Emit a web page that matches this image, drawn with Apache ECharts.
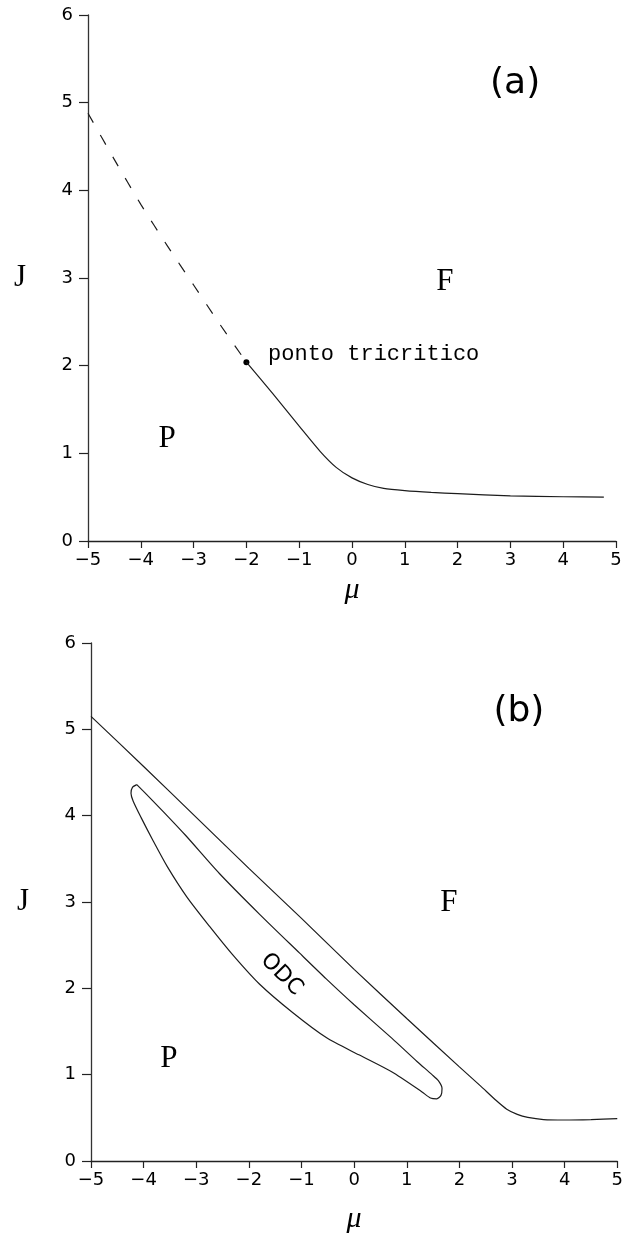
<!DOCTYPE html>
<html>
<head>
<meta charset="utf-8">
<script src="https://cdn.jsdelivr.net/npm/echarts@6/dist/echarts.min.js"></script>
<style>
  html, body { margin: 0; padding: 0; background: #fff; }
  #chart { width: 626px; height: 1235px; }
</style>
</head>
<body>
<div id="chart"></div>
<script>
// Axis ticks shared by both phase diagrams
const muTicks = [-5, -4, -3, -2, -1, 0, 1, 2, 3, 4, 5];
const jTicks = [0, 1, 2, 3, 4, 5, 6];

// (a) first-order branch (dashed) and second-order branch (solid), [mu, J]
const firstOrderA = [[-5, 4.88], [-4.5, 4.35], [-4, 3.84], [-3.5, 3.37], [-3, 2.92], [-2.5, 2.47], [-2, 2.04]];
const secondOrderA = [[-2, 2.04], [-1.5, 1.68], [-1, 1.31], [-0.6, 1.02], [-0.3, 0.84], [0, 0.72], [0.3, 0.645],
  [0.6, 0.6], [1, 0.575], [1.5, 0.555], [2, 0.54], [3, 0.515], [4, 0.505], [4.77, 0.5]];
const tricriticalPoint = [[-2, 2.04]];

// (b) P-F boundary and the closed ODC region
const boundaryB = [[-5, 5.15], [-4, 4.57], [-3, 3.98], [-2, 3.39], [-1, 2.81], [0, 2.22], [1, 1.65], [2, 1.09],
  [2.4, 0.87], [2.7, 0.7], [2.9, 0.6], [3.1, 0.54], [3.3, 0.505], [3.6, 0.48], [4, 0.475], [4.5, 0.48], [5, 0.49]];
const odcLoop = [[-4.13, 4.36], [-3.95, 4.25], [-3.6, 4.03], [-3.2, 3.77], [-2.56, 3.33], [-1.8, 2.86], [-1.04, 2.41],
  [-0.53, 2.11], [0, 1.81], [0.72, 1.42], [1.2, 1.15], [1.48, 1.0], [1.6, 0.93], [1.67, 0.84], [1.65, 0.76],
  [1.57, 0.72], [1.45, 0.73], [1.29, 0.8], [0.72, 1.03], [0.09, 1.23], [-0.53, 1.43], [-1.17, 1.72], [-1.8, 2.05],
  [-2.31, 2.39], [-2.75, 2.72], [-3.18, 3.06], [-3.55, 3.41], [-3.82, 3.71], [-4.05, 3.98], [-4.2, 4.17],
  [-4.24, 4.26], [-4.21, 4.33], [-4.13, 4.36]];

// Region and panel annotations, anchored in (mu, J) units
const notesA = [
  { text: '(a)', at: [3.09, 5.22], kind: 'panel' },
  { text: 'F', at: [1.76, 2.96], kind: 'region' },
  { text: 'P', at: [-3.5, 1.17], kind: 'region' },
  { text: 'ponto tricritico', at: [-1.59, 2.13], kind: 'note' }
];
const notesB = [
  { text: '(b)', at: [3.13, 5.2], kind: 'panel' },
  { text: 'F', at: [1.8, 2.99], kind: 'region' },
  { text: 'P', at: [-3.52, 1.18], kind: 'region' },
  { text: 'ODC', at: [-1.38, 2.16], kind: 'odc' }
];

const ink = '#000000';
const lineInk = '#1c1c1c';

function tickText(v) {
  return String(v).replace('-', '\u2212');
}

function xAxisFor(gridIndex, nameGap) {
  return {
    type: 'value', gridIndex, min: -5, max: 5, interval: 1,
    name: '\u03bc', nameLocation: 'middle', nameGap,
    nameTextStyle: { fontFamily: 'Liberation Serif', fontStyle: 'italic', fontSize: 30, color: ink },
    axisLine: { show: true, onZero: false, lineStyle: { color: '#222', width: 1.3 } },
    axisTick: { show: true, length: 7, lineStyle: { color: '#222', width: 1.2 } },
    axisLabel: { margin: 10, fontFamily: 'DejaVu Sans', fontSize: 18, color: ink, formatter: tickText,
      customValues: muTicks },
    splitLine: { show: false }
  };
}

function yAxisFor(gridIndex) {
  return {
    type: 'value', gridIndex, min: 0, max: 6, interval: 1,
    name: 'J', nameLocation: 'middle', nameRotate: 0, nameGap: 62,
    nameTextStyle: { fontFamily: 'Liberation Serif', fontSize: 31, color: ink },
    axisLine: { show: true, onZero: false, lineStyle: { color: '#333', width: 1.3 } },
    axisTick: { show: true, length: 9, lineStyle: { color: '#222', width: 1.2 } },
    axisLabel: { margin: 15, fontFamily: 'DejaVu Sans', fontSize: 18, color: ink, formatter: tickText,
      customValues: jTicks },
    splitLine: { show: false }
  };
}

function noteStyle(kind) {
  if (kind === 'panel') return { fontFamily: 'DejaVu Sans', fontSize: 36, position: 'inside' };
  if (kind === 'region') return { fontFamily: 'Liberation Serif', fontSize: 31, position: 'inside' };
  if (kind === 'odc') return { fontFamily: 'DejaVu Sans', fontSize: 22, position: 'inside', rotate: -45 };
  return { fontFamily: 'Liberation Mono', fontSize: 22, position: 'right', distance: 0 };
}

function notesSeries(notes, idx) {
  return {
    type: 'scatter', xAxisIndex: idx, yAxisIndex: idx, symbolSize: 0, silent: true, z: 5,
    itemStyle: { opacity: 1 },
    data: notes.map(n => ({
      value: n.at,
      label: Object.assign({ show: true, formatter: n.text, color: ink }, noteStyle(n.kind))
    }))
  };
}

function curve(data, idx, dashed) {
  return {
    type: 'line', xAxisIndex: idx, yAxisIndex: idx, data, showSymbol: false, symbol: 'none',
    smooth: 0.25, silent: true, clip: false,
    lineStyle: { color: lineInk, width: 1.2, type: dashed ? [11, 14] : 'solid' }
  };
}

const chart = echarts.init(document.getElementById('chart'), null, { renderer: 'canvas' });
chart.setOption({
  backgroundColor: '#ffffff',
  animation: false,
  grid: [
    { left: 88, top: 15, width: 528, height: 526 },
    { left: 91, top: 643, width: 528, height: 524 }
  ],
  xAxis: [xAxisFor(0, 34), xAxisFor(1, 43)],
  yAxis: [yAxisFor(0), yAxisFor(1)],
  series: [
    curve(firstOrderA, 0, true),
    curve(secondOrderA, 0, false),
    {
      type: 'scatter', xAxisIndex: 0, yAxisIndex: 0, data: tricriticalPoint,
      symbol: 'circle', symbolSize: 6, itemStyle: { color: '#000', opacity: 1 }, silent: true
    },
    notesSeries(notesA, 0),
    curve(boundaryB, 1, false),
    curve(odcLoop, 1, false),
    notesSeries(notesB, 1)
  ]
});
</script>
</body>
</html>
